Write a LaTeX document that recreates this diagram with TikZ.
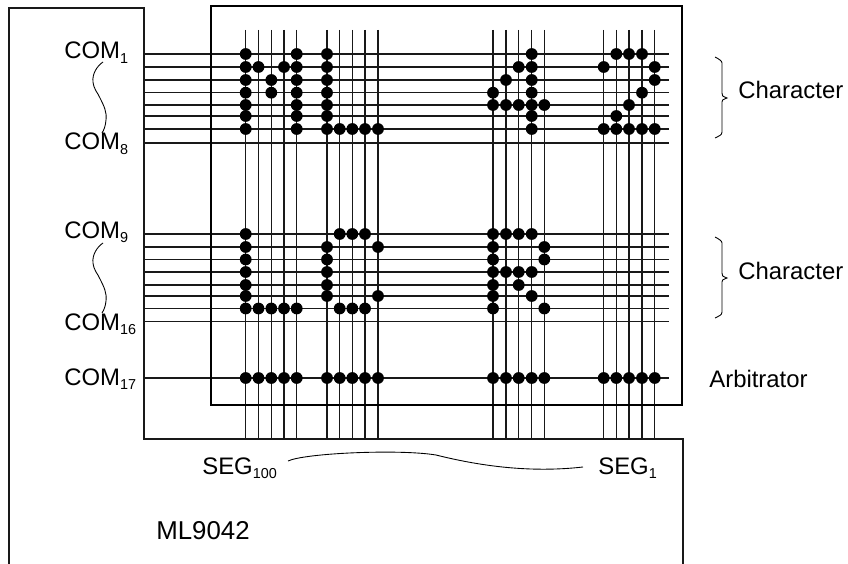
\documentclass[tikz,border=0pt]{standalone}
\usepackage{fontspec}
\setmainfont{Liberation Sans}
\usetikzlibrary{positioning,calc}
\newcommand{\lowsub}[1]{\raisebox{-.17em}{\fontsize{8.2}{9}\selectfont #1}}
\tikzset{
 wire/.style={line width=.6pt,black!90},
 lbl/.style={font=\fontsize{13.6}{16}\selectfont,inner sep=0pt,anchor=base west},
 squig/.style={line width=.5pt},
 pixel/.style={fill=black}
}
\begin{document}
\begin{tikzpicture}[x=.02cm,y=-.02cm]
\useasboundingbox (0,0) rectangle (848,564);
% driver outline
\draw[wire] (9,564)--(9,8)--(144,8)--(144,439)--(683,439)--(683,564);
% grid positions
\foreach \x [count=\i] in {245.7,258.5,271.3,284,296.7,327,339.7,352.3,365,378,493,506,518.7,531.7,544.3,603.7,616.3,629,642,654.7}{
 \coordinate (c\i) at (\x,30);
 \coordinate (e\i) at (\x,439);
 \draw[wire] (c\i)--(e\i);}
\foreach \y [count=\i] in {54,67,80,92.7,105,116,129,143,234,247,259.5,272,285,296,308.5,321.5,378}{
 \coordinate (r\i) at (144,\y);
 \coordinate (q\i) at (669,\y);
 \draw[wire] (r\i)--(q\i);}
% panel
\draw[line width=1.4pt] (211,6) rectangle (682,405);
% pixels
\foreach \r/\cols in {1/{1,5,6,14,17,18,19},2/{1,2,4,5,6,13,14,16,20},3/{1,3,5,6,12,14,20},
 4/{1,3,5,6,11,14,19},5/{1,5,6,11,12,13,14,15,18},6/{1,5,6,14,17},
 7/{1,5,6,7,8,9,10,14,16,17,18,19,20},
 9/{1,7,8,9,11,12,13,14},10/{1,6,10,11,15},11/{1,6,11,15},12/{1,6,11,12,13,14},
 13/{1,6,11,13},14/{1,6,10,11,14},15/{1,2,3,4,5,7,8,9,11,15},
 17/{1,2,3,4,5,6,7,8,9,10,11,12,13,14,15,16,17,18,19,20}}{
 \foreach \c in \cols {\fill[pixel] (c\c |- r\r) circle (5.9);}}
% common labels
\node[lbl] (com1) at (64,59){COM\lowsub{1}};
\node[lbl] (com8) at (64,150){COM\lowsub{8}};
\node[lbl] (com9) at (64,238){COM\lowsub{9}};
\node[lbl] (com16) at (64,330){COM\lowsub{16}};
\node[lbl] (com17) at (64,385){COM\lowsub{17}};
\coordinate (top1) at (103,62);
\coordinate (bot1) at (102,133);
\coordinate (top2) at (103,243);
\coordinate (bot2) at (102,313);
\draw[squig] (top1) .. controls (97,66) and (92,74) .. (93,82) .. controls (94,90) and (98,93) .. (100,98)
 .. controls (104,106) and (107,112) .. (106,120) .. controls (105.5,126) and (104,130) .. (bot1);
\draw[squig] (top2) .. controls (97,247) and (92,255) .. (93,263) .. controls (94,271) and (98,274) .. (100,279)
 .. controls (104,287) and (107,293) .. (106,301) .. controls (105.5,306) and (104,310) .. (bot2);
% segment labels
\node[lbl] (seg100) at (202,474){SEG\lowsub{100}};
\node[lbl] (seg1) at (598,474){SEG\lowsub{1}};
\node[lbl,font=\fontsize{14.7}{17}\selectfont] (chip) at (156,539){ML9042};
\coordinate (segl) at (288,461);
\coordinate (segr) at (583,467);
\draw[squig] (segl) .. controls (305,453) and (400,449) .. (436,455) .. controls (480,466) and (530,473) .. (segr);
% braces
\foreach \a/\b/\c/\d/\e/\f in {57/63/93/98/102/132,237/243/273/278/282/312}{
 \draw[squig] (715,\a) .. controls (719,\a+2) and (722,\b-2) .. (722,\b) -- (722,\c)
  .. controls (722,\c+3) .. (727,\d) .. controls (722,\e-2) .. (722,\e) -- (722,\f)
  .. controls (722,\f+3) and (719,\f+4) .. (715,\f+6);}
\node[lbl] (char1) at (738,99){Character};
\node[lbl] (char2) at (738,279){Character};
\node[lbl] (arb) at (709,387){Arbitrator};
\end{tikzpicture}
\end{document}
